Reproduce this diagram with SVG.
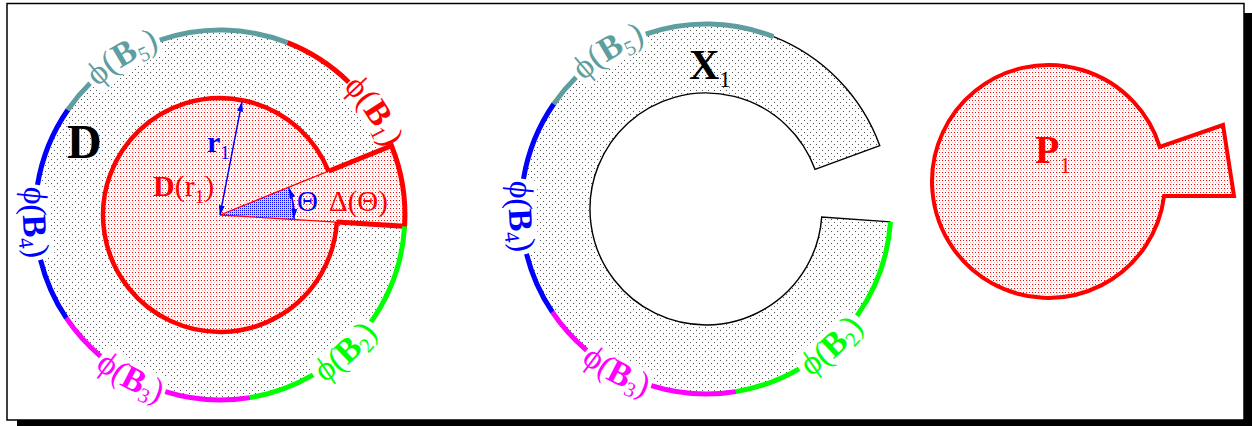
<svg xmlns="http://www.w3.org/2000/svg" width="1252" height="426" viewBox="0 0 1252 426">
<defs>
<pattern id="gd" width="6" height="6" patternUnits="userSpaceOnUse"><rect width="6" height="6" fill="#fff"/><rect width="1" height="1" fill="#555"/><rect x="3" y="3" width="1" height="1" fill="#555"/></pattern>
<pattern id="rd" width="3" height="4" patternUnits="userSpaceOnUse"><rect width="3" height="4" fill="#fff"/><rect width="1" height="1" fill="#f00"/><rect x="1" y="2" width="1" height="1" fill="#fbb"/></pattern>
<pattern id="bd" width="2" height="2" patternUnits="userSpaceOnUse"><rect width="2" height="2" fill="#ccf"/><rect width="1" height="1" fill="#00f"/></pattern>
<marker id="ab" viewBox="0 0 10 6" refX="9.5" refY="3" markerWidth="10" markerHeight="6" markerUnits="userSpaceOnUse" orient="auto-start-reverse"><path d="M0,0 L10,3 L0,6 z" fill="#00f"/></marker>
<path id="L5" d="M64.0,131.3 A177,177 0 0 1 214.4,38.1"/>
<path id="L1" d="M297.6,55.9 A177,177 0 0 1 396.6,202.6"/>
<path id="L2" d="M262.6,407.3 A197,197 0 0 0 407.9,274.2"/>
<path id="L3" d="M51.7,317.3 A197,197 0 0 0 224.5,411.9"/>
<path id="L4" d="M45.6,123.4 A197,197 0 0 0 53.5,320.3"/>
<path id="M5" d="M550.0,125.3 A177,177 0 0 1 700.4,32.1"/>
<path id="M2" d="M748.6,401.3 A197,197 0 0 0 893.9,268.2"/>
<path id="M3" d="M537.7,311.3 A197,197 0 0 0 710.5,405.9"/>
<path id="M4" d="M531.6,117.4 A197,197 0 0 0 539.5,314.3"/>
</defs>
<style>
text{font-family:"Liberation Serif","Times New Roman","DejaVu Serif",serif}
.lbl{font-size:34px}
.b{font-weight:bold}
.sub{font-size:21px}
.arc{fill:none;stroke-width:5;stroke-linecap:butt}
.wb{fill:none;stroke:#fff;stroke-width:32}
.teal{stroke:#5F9EA0}.red{stroke:#f00}.grn{stroke:#0f0}.mag{stroke:#f0f}.blu{stroke:#00f}
</style>
<g id="frame">
<rect x="17" y="13" width="1240" height="420" fill="#000"/>
<rect x="7" y="3.5" width="1237" height="416.5" fill="#fff" stroke="#000" stroke-width="1.5"/>
</g>
<g id="D">
<circle cx="220" cy="215" r="185" fill="url(#gd)"/>
<path class="wb" d="M89.4,82.6 A186,186 0 0 1 159.4,39.1 M349.4,81.4 A186,186 0 0 1 392.5,145.3 M371.8,322.5 A186,186 0 0 1 313.6,375.8 M165.0,392.7 A186,186 0 0 1 99.9,357.1 M39.5,260.0 A186,186 0 0 1 36.5,184.6"/>
<circle cx="220" cy="215" r="117" fill="url(#rd)"/>
<path d="M220,215 L391.5,145.7 A185,185 0 0 1 404.6,226.3 Z" fill="url(#rd)"/>
<path d="M220,215 L289.5,186.9 A75,75 0 0 1 294.9,219.6 Z" fill="url(#bd)"/>
<path d="M220,215 L328.5,171.2 M220,215 L336.8,222.1" fill="none" stroke="#f00" stroke-width="1.3"/>
<path d="M328.5,171.2 A117,117 0 1 0 336.8,222.1" fill="none" stroke="#f00" stroke-width="4.5"/>
<path d="M328.5,171.2 L391.5,145.7 A185,185 0 0 1 404.6,226.3 L336.8,222.1" fill="none" stroke="#f00" stroke-width="5"/>
<path class="arc teal" d="M67.7,110.0 A185,185 0 0 1 90.1,83.3 M159.8,40.1 A185,185 0 0 1 287.5,42.7"/>
<path class="arc red" d="M287.5,42.7 A185,185 0 0 1 348.7,82.2"/>
<path class="arc grn" d="M404.6,226.3 A185,185 0 0 1 371.0,321.9 M313.1,374.9 A185,185 0 0 1 249.9,397.6"/>
<path class="arc mag" d="M249.9,397.6 A185,185 0 0 1 165.3,391.7 M100.6,356.3 A185,185 0 0 1 66.4,318.2"/>
<path class="arc blu" d="M66.4,318.2 A185,185 0 0 1 40.5,259.8 M37.5,184.8 A185,185 0 0 1 67.7,110.0"/>
<text class="b" x="67" y="158" font-size="48" fill="#000">D</text>
<text x="153" y="196" font-size="30" fill="#f00"><tspan class="b">D</tspan>(r<tspan font-size="19" dy="7">1</tspan><tspan dy="-7">)</tspan></text>
<text class="b" x="207" y="152" font-size="30" fill="#00f">r<tspan font-size="19" font-weight="normal" dy="7">1</tspan></text>
<text x="297" y="211" font-size="29" fill="#00f">Θ</text>
<text x="329" y="211" font-size="29" fill="#f00">Δ(Θ)</text>
<text class="lbl" fill="#5F9EA0"><textPath href="#L5" startOffset="50%" text-anchor="middle">ϕ(<tspan class="b">B</tspan><tspan class="sub" dy="6">5</tspan><tspan dy="-6">)</tspan></textPath></text>
<text class="lbl" fill="#f00"><textPath href="#L1" startOffset="50%" text-anchor="middle">ϕ(<tspan class="b">B</tspan><tspan class="sub" dy="6">1</tspan><tspan dy="-6">)</tspan></textPath></text>
<text class="lbl" fill="#0f0"><textPath href="#L2" startOffset="50%" text-anchor="middle">ϕ(<tspan class="b">B</tspan><tspan class="sub" dy="6">2</tspan><tspan dy="-6">)</tspan></textPath></text>
<text class="lbl" fill="#f0f"><textPath href="#L3" startOffset="50%" text-anchor="middle">ϕ(<tspan class="b">B</tspan><tspan class="sub" dy="6">3</tspan><tspan dy="-6">)</tspan></textPath></text>
<text class="lbl" fill="#00f"><textPath href="#L4" startOffset="50%" text-anchor="middle">ϕ(<tspan class="b">B</tspan><tspan class="sub" dy="6">4</tspan><tspan dy="-6">)</tspan></textPath></text>
</g>
<g id="X1">
<path d="M879.8,145.7 A185,185 0 1 0 890.5,221.9 L821.7,217.1 A116,116 0 1 1 815.0,169.3 Z" fill="url(#gd)"/>
<path class="wb" d="M575.4,76.6 A186,186 0 0 1 645.4,33.1 M857.8,316.5 A186,186 0 0 1 799.6,369.8 M651.0,386.7 A186,186 0 0 1 585.9,351.1 M525.5,254.0 A186,186 0 0 1 522.5,178.6"/>
<path d="M773.5,36.7 A185,185 0 0 1 879.8,145.7 L815.0,169.3 A116,116 0 1 0 821.7,217.1 L890.5,221.9" fill="none" stroke="#000" stroke-width="1.4"/>
<path class="arc teal" d="M553.7,104.0 A185,185 0 0 1 576.1,77.3 M645.8,34.1 A185,185 0 0 1 773.5,36.7"/>
<path class="arc grn" d="M890.5,221.9 A185,185 0 0 1 857.0,315.9 M799.1,368.9 A185,185 0 0 1 735.9,391.6"/>
<path class="arc mag" d="M735.9,391.6 A185,185 0 0 1 651.3,385.7 M586.6,350.3 A185,185 0 0 1 552.4,312.2"/>
<path class="arc blu" d="M552.4,312.2 A185,185 0 0 1 526.5,253.8 M523.5,178.8 A185,185 0 0 1 553.7,104.0"/>
<text class="b" x="689" y="79" font-size="42" fill="#000">X<tspan font-size="23" font-weight="normal" dy="8">1</tspan></text>
<text class="lbl" fill="#5F9EA0"><textPath href="#M5" startOffset="50%" text-anchor="middle">ϕ(<tspan class="b">B</tspan><tspan class="sub" dy="6">5</tspan><tspan dy="-6">)</tspan></textPath></text>
<text class="lbl" fill="#0f0"><textPath href="#M2" startOffset="50%" text-anchor="middle">ϕ(<tspan class="b">B</tspan><tspan class="sub" dy="6">2</tspan><tspan dy="-6">)</tspan></textPath></text>
<text class="lbl" fill="#f0f"><textPath href="#M3" startOffset="50%" text-anchor="middle">ϕ(<tspan class="b">B</tspan><tspan class="sub" dy="6">3</tspan><tspan dy="-6">)</tspan></textPath></text>
<text class="lbl" fill="#00f"><textPath href="#M4" startOffset="50%" text-anchor="middle">ϕ(<tspan class="b">B</tspan><tspan class="sub" dy="6">4</tspan><tspan dy="-6">)</tspan></textPath></text>
</g>
<g id="P1">
<path d="M1159.8,147 A116.5,116.5 0 1 0 1164.1,196 L1234,196 L1223,125 Z" fill="url(#rd)" stroke="#f00" stroke-width="4"/>
<text class="b" x="1035" y="163" font-size="40" fill="#f00">P<tspan font-size="23" font-weight="normal" dy="10">1</tspan></text>
</g>
<g id="connectors">
<path d="M220,215 L241.9,102.1" fill="none" stroke="#00f" stroke-width="1.5" marker-start="url(#ab)" marker-end="url(#ab)"/>
<path d="M289.1,188.5 A74,74 0 0 1 293.9,218.2" fill="none" stroke="#00f" stroke-width="1.5" marker-start="url(#ab)" marker-end="url(#ab)"/>
</g>
</svg>
